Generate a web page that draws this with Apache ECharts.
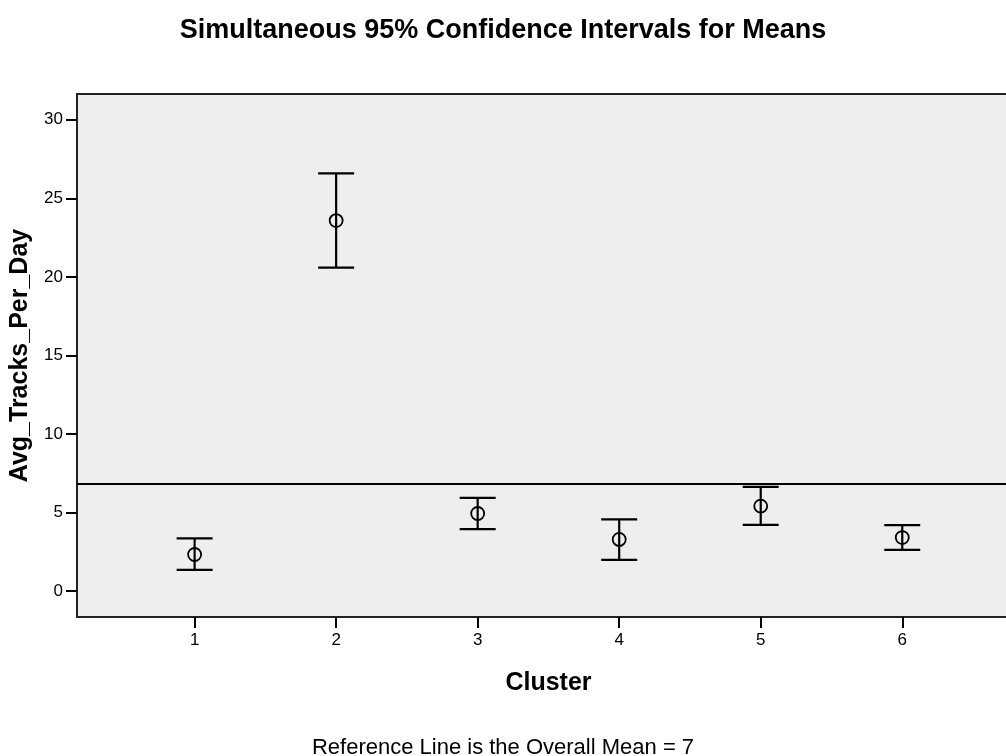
<!DOCTYPE html>
<html>
<head>
<meta charset="utf-8">
<title>Simultaneous 95% Confidence Intervals for Means</title>
<script src="https://cdn.jsdelivr.net/npm/echarts@6/dist/echarts.min.js"></script>
<style>
  html, body { margin: 0; padding: 0; background: #fff; }
  #chart { width: 1006px; height: 756px; }
</style>
</head>
<body>
<div id="chart"></div>
<script>
// 数据: 各聚类的均值与置信区间
var clusters = [1, 2, 3, 4, 5, 6];
var means  = [2.32, 23.58, 4.93, 3.28, 5.40, 3.40];
var lowers = [1.34, 20.59, 3.93, 1.98, 4.21, 2.61];
var uppers = [3.34, 26.58, 5.93, 4.55, 6.63, 4.19];
var overallMean = 6.85;
var yTicks = [0, 5, 10, 15, 20, 25, 30];

var FONT = 'Liberation Sans, Arial, sans-serif';

var seriesData = clusters.map(function (c, i) {
    return [c, means[i], lowers[i], uppers[i]];
});

var option = {
    animation: false,
    backgroundColor: '#fff',
    title: [{
        text: 'Simultaneous 95% Confidence Intervals for Means',
        left: 'center',
        top: 12,
        textStyle: { fontFamily: FONT, fontSize: 27, fontWeight: 'bold', color: '#000' }
    }, {
        text: 'Reference Line is the Overall Mean = 7',
        left: 'center',
        top: 732,
        textStyle: { fontFamily: FONT, fontSize: 22, fontWeight: 'normal', color: '#000' }
    }],
    grid: {
        left: 76,
        top: 94,
        right: 0,
        bottom: 139,
        show: true,
        backgroundColor: '#eeeeee',
        borderWidth: 0
    },
    xAxis: [{
        type: 'value',
        position: 'bottom',
        min: 0.169,
        max: 6.733,
        name: 'Cluster',
        nameLocation: 'middle',
        nameGap: 54,
        nameTextStyle: {
            fontFamily: FONT, fontSize: 25, fontWeight: 'bold', color: '#000',
            padding: [0, 0, 0, 14]
        },
        splitLine: { show: false },
        axisLine: { show: true, onZero: false, lineStyle: { color: '#222', width: 2 } },
        axisTick: {
            show: true,
            customValues: clusters,
            length: 11,
            lineStyle: { color: '#000', width: 2 }
        },
        axisLabel: {
            customValues: clusters,
            margin: 15,
            fontFamily: FONT,
            fontSize: 17,
            color: '#000'
        }
    }, {
        // 顶部边框
        type: 'value',
        position: 'top',
        min: 0.169,
        max: 6.733,
        splitLine: { show: false },
        axisLine: { show: true, onZero: false, lineStyle: { color: '#222', width: 2 } },
        axisTick: { show: false },
        axisLabel: { show: false }
    }],
    yAxis: {
        type: 'value',
        min: -1.66,
        max: 31.64,
        name: 'Avg_Tracks_Per_Day',
        nameLocation: 'middle',
        nameGap: 44,
        nameMoveOverlap: false,
        nameTextStyle: { fontFamily: FONT, fontSize: 25, fontWeight: 'bold', color: '#000' },
        splitLine: { show: false },
        axisLine: { show: true, onZero: false, lineStyle: { color: '#222', width: 2 } },
        axisTick: {
            show: true,
            customValues: yTicks,
            length: 11,
            lineStyle: { color: '#000', width: 2 }
        },
        axisLabel: {
            customValues: yTicks,
            margin: 14,
            fontFamily: FONT,
            fontSize: 17,
            color: '#000'
        }
    },
    series: [{
        type: 'custom',
        xAxisIndex: 0,
        data: seriesData,
        renderItem: function (params, api) {
            var x = api.value(0);
            var m = api.coord([x, api.value(1)]);
            var lo = api.coord([x, api.value(2)]);
            var hi = api.coord([x, api.value(3)]);
            var half = 18;
            var style = { stroke: '#000', lineWidth: 2.2, fill: null };
            return {
                type: 'group',
                children: [
                    { type: 'line', shape: { x1: hi[0], y1: hi[1], x2: lo[0], y2: lo[1] }, style: style },
                    { type: 'line', shape: { x1: hi[0] - half, y1: hi[1], x2: hi[0] + half, y2: hi[1] }, style: style },
                    { type: 'line', shape: { x1: lo[0] - half, y1: lo[1], x2: lo[0] + half, y2: lo[1] }, style: style },
                    { type: 'circle', shape: { cx: m[0], cy: m[1], r: 6.5 }, style: { stroke: '#000', lineWidth: 1.8, fill: null } }
                ]
            };
        },
        markLine: {
            silent: true,
            symbol: ['none', 'none'],
            label: { show: false },
            lineStyle: { color: '#000', type: 'solid', width: 2 },
            data: [{ yAxis: overallMean }]
        }
    }]
};

var chart = echarts.init(document.getElementById('chart'));
chart.setOption(option);
</script>
</body>
</html>
